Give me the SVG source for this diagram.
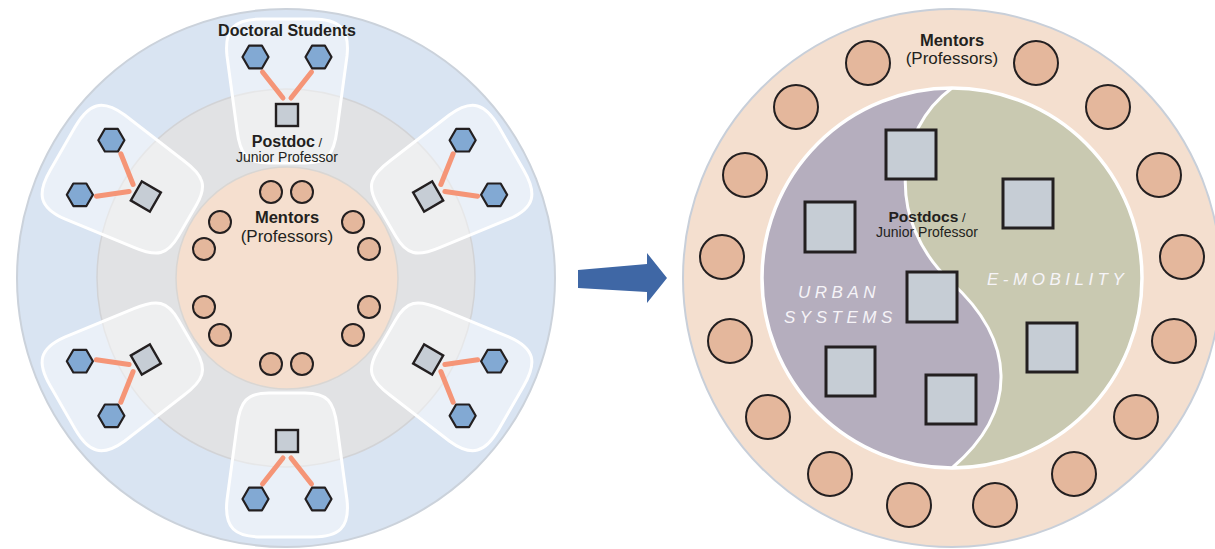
<svg xmlns="http://www.w3.org/2000/svg" width="1215" height="549" viewBox="0 0 1215 549">
<style>
text{font-family:"Liberation Sans",Arial,sans-serif;fill:#231f20}
.b{font-weight:bold}
.zone{fill:#ffffff;fill-opacity:0.45;stroke:#ffffff;stroke-width:3}
.hex{fill:#82a9d3;stroke:#231f20;stroke-width:2.2;stroke-linejoin:round}
.sq{fill:#c6cdd5;stroke:#231f20;stroke-width:2.4}
.bigsq{fill:#c6cdd5;stroke:#231f20;stroke-width:3}
.lnk{stroke:#f59577;stroke-width:5;stroke-linecap:round;fill:none}
.men{fill:#e4b79c;stroke:#231f20;stroke-width:2}
.field{font-style:italic;font-size:17px;letter-spacing:4.5px;fill:#f6f4f8}
</style>
<defs>
<polygon id="hx" points="-13,0 -6.5,-11.3 6.5,-11.3 13,0 6.5,11.3 -6.5,11.3"/>
</defs>

<!-- LEFT DIAGRAM -->
<g id="left-rings">
<circle cx="286" cy="278" r="269" fill="#d9e4f2" stroke="#cbd2db" stroke-width="2"/>
<circle cx="286" cy="278" r="189" fill="#e1e2e4" stroke="#d2d3d6" stroke-width="1.5"/>
<circle cx="287" cy="278" r="111" fill="#f5dfcf" stroke="#d9d6d3" stroke-width="1.5"/>
</g>

<g id="left-mentors">
<circle class="men" cx="271" cy="192" r="11"/>
<circle class="men" cx="302" cy="192" r="11"/>
<circle class="men" cx="220" cy="222" r="11"/>
<circle class="men" cx="204" cy="249" r="11"/>
<circle class="men" cx="353" cy="222" r="11"/>
<circle class="men" cx="369" cy="249" r="11"/>
<circle class="men" cx="204" cy="307" r="11"/>
<circle class="men" cx="220" cy="335" r="11"/>
<circle class="men" cx="369" cy="307" r="11"/>
<circle class="men" cx="353" cy="335" r="11"/>
<circle class="men" cx="271" cy="364" r="11"/>
<circle class="men" cx="302" cy="364" r="11"/>
<text x="287" y="223" text-anchor="middle" class="b" font-size="16.5">Mentors</text>
<text x="287" y="242" text-anchor="middle" font-size="17">(Professors)</text>
</g>

<g id="group-top" transform="translate(287,278)">
<path class="zone" d="M -25,-259 L 25,-259 C 52,-259 63,-250 60,-222 L 50,-148 C 47,-123 40,-115 18,-115 L -18,-115 C -40,-115 -47,-123 -50,-148 L -60,-222 C -63,-250 -52,-259 -25,-259 Z"/>
<line class="lnk" x1="-24.5" y1="-206" x2="-4" y2="-180"/>
<line class="lnk" x1="24.5" y1="-206" x2="4" y2="-180"/>
<use href="#hx" class="hex" x="-31.5" y="-221"/>
<use href="#hx" class="hex" x="31.5" y="-221"/>
<rect class="sq" x="-11" y="-174" width="22" height="22"/>
</g>
<g id="group-upper-right" transform="translate(287,278) rotate(60)">
<path class="zone" d="M -25,-259 L 25,-259 C 52,-259 63,-250 60,-222 L 50,-148 C 47,-123 40,-115 18,-115 L -18,-115 C -40,-115 -47,-123 -50,-148 L -60,-222 C -63,-250 -52,-259 -25,-259 Z"/>
<line class="lnk" x1="-24.5" y1="-206" x2="-4" y2="-180"/>
<line class="lnk" x1="24.5" y1="-206" x2="4" y2="-180"/>
<use href="#hx" class="hex" x="-31.5" y="-221"/>
<use href="#hx" class="hex" x="31.5" y="-221"/>
<rect class="sq" x="-11" y="-174" width="22" height="22"/>
</g>
<g id="group-lower-right" transform="translate(287,278) rotate(120)">
<path class="zone" d="M -25,-259 L 25,-259 C 52,-259 63,-250 60,-222 L 50,-148 C 47,-123 40,-115 18,-115 L -18,-115 C -40,-115 -47,-123 -50,-148 L -60,-222 C -63,-250 -52,-259 -25,-259 Z"/>
<line class="lnk" x1="-24.5" y1="-206" x2="-4" y2="-180"/>
<line class="lnk" x1="24.5" y1="-206" x2="4" y2="-180"/>
<use href="#hx" class="hex" x="-31.5" y="-221"/>
<use href="#hx" class="hex" x="31.5" y="-221"/>
<rect class="sq" x="-11" y="-174" width="22" height="22"/>
</g>
<g id="group-bottom" transform="translate(287,278) rotate(180)">
<path class="zone" d="M -25,-259 L 25,-259 C 52,-259 63,-250 60,-222 L 50,-148 C 47,-123 40,-115 18,-115 L -18,-115 C -40,-115 -47,-123 -50,-148 L -60,-222 C -63,-250 -52,-259 -25,-259 Z"/>
<line class="lnk" x1="-24.5" y1="-206" x2="-4" y2="-180"/>
<line class="lnk" x1="24.5" y1="-206" x2="4" y2="-180"/>
<use href="#hx" class="hex" x="-31.5" y="-221"/>
<use href="#hx" class="hex" x="31.5" y="-221"/>
<rect class="sq" x="-11" y="-174" width="22" height="22"/>
</g>
<g id="group-lower-left" transform="translate(287,278) rotate(240)">
<path class="zone" d="M -25,-259 L 25,-259 C 52,-259 63,-250 60,-222 L 50,-148 C 47,-123 40,-115 18,-115 L -18,-115 C -40,-115 -47,-123 -50,-148 L -60,-222 C -63,-250 -52,-259 -25,-259 Z"/>
<line class="lnk" x1="-24.5" y1="-206" x2="-4" y2="-180"/>
<line class="lnk" x1="24.5" y1="-206" x2="4" y2="-180"/>
<use href="#hx" class="hex" x="-31.5" y="-221"/>
<use href="#hx" class="hex" x="31.5" y="-221"/>
<rect class="sq" x="-11" y="-174" width="22" height="22"/>
</g>
<g id="group-upper-left" transform="translate(287,278) rotate(300)">
<path class="zone" d="M -25,-259 L 25,-259 C 52,-259 63,-250 60,-222 L 50,-148 C 47,-123 40,-115 18,-115 L -18,-115 C -40,-115 -47,-123 -50,-148 L -60,-222 C -63,-250 -52,-259 -25,-259 Z"/>
<line class="lnk" x1="-24.5" y1="-206" x2="-4" y2="-180"/>
<line class="lnk" x1="24.5" y1="-206" x2="4" y2="-180"/>
<use href="#hx" class="hex" x="-31.5" y="-221"/>
<use href="#hx" class="hex" x="31.5" y="-221"/>
<rect class="sq" x="-11" y="-174" width="22" height="22"/>
</g>

<g id="left-labels">
<text x="287" y="36" text-anchor="middle" class="b" font-size="16">Doctoral Students</text>
<text x="287" y="147" text-anchor="middle"><tspan class="b" font-size="16">Postdoc</tspan><tspan font-size="13"> /</tspan></text>
<text x="287" y="162" text-anchor="middle" font-size="14" fill="#333">Junior Professor</text>
</g>

<!-- ARROW -->
<g id="arrow">
<polygon points="578,270 647,264 647,253 667,278 647,303 647,292 578,288" fill="#3f67a5"/>
</g>

<!-- RIGHT DIAGRAM -->
<g id="right-ring">
<circle cx="952" cy="278" r="269" fill="#f4dfcf" stroke="#c8cfd9" stroke-width="2"/>
</g>
<g id="right-core">
<circle cx="952" cy="278" r="190" fill="#c9c9b1"/>
<path d="M 952,88 C 895,130 885,220 951,282 C 1015,340 1020,410 952,468 A 190 190 0 0 1 952,88 Z" fill="#b5aebe"/>
<path d="M 952,88 C 895,130 885,220 951,282 C 1015,340 1020,410 952,468" fill="none" stroke="#ffffff" stroke-width="3"/>
<circle cx="952" cy="278" r="190" fill="none" stroke="#ffffff" stroke-width="3.5"/>
</g>
<g id="right-mentors">
<circle class="men" cx="1036" cy="63" r="22"/>
<circle class="men" cx="1108" cy="107" r="22"/>
<circle class="men" cx="1159" cy="175" r="22"/>
<circle class="men" cx="1182" cy="257" r="22"/>
<circle class="men" cx="1174" cy="341" r="22"/>
<circle class="men" cx="1136" cy="417" r="22"/>
<circle class="men" cx="1074" cy="474" r="22"/>
<circle class="men" cx="995" cy="505" r="22"/>
<circle class="men" cx="868" cy="63" r="22"/>
<circle class="men" cx="796" cy="107" r="22"/>
<circle class="men" cx="745" cy="175" r="22"/>
<circle class="men" cx="722" cy="257" r="22"/>
<circle class="men" cx="730" cy="341" r="22"/>
<circle class="men" cx="768" cy="417" r="22"/>
<circle class="men" cx="830" cy="474" r="22"/>
<circle class="men" cx="909" cy="505" r="22"/>
<text x="952" y="46" text-anchor="middle" class="b" font-size="16.5">Mentors</text>
<text x="952" y="64" text-anchor="middle" font-size="17">(Professors)</text>
</g>
<g id="right-postdocs">
<rect class="bigsq" x="886" y="130" width="50" height="49"/>
<rect class="bigsq" x="1003" y="179" width="50" height="49"/>
<rect class="bigsq" x="805" y="202" width="50" height="50"/>
<rect class="bigsq" x="907" y="272" width="50" height="50"/>
<rect class="bigsq" x="1027" y="323" width="50" height="49"/>
<rect class="bigsq" x="826" y="347" width="49" height="49"/>
<rect class="bigsq" x="926" y="375" width="50" height="49"/>
</g>
<g id="right-labels">
<text x="927" y="222" text-anchor="middle"><tspan class="b" font-size="15.5">Postdocs</tspan><tspan font-size="13"> /</tspan></text>
<text x="927" y="237" text-anchor="middle" font-size="14" fill="#333">Junior Professor</text>
<text class="field" x="798" y="298">URBAN</text>
<text class="field" x="784" y="323">SYSTEMS</text>
<text class="field" x="987" y="285">E-MOBILITY</text>
</g>
</svg>
